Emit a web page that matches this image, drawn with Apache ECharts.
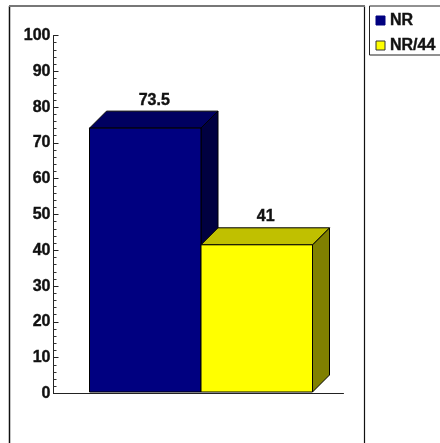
<!DOCTYPE html>
<html>
<head>
<meta charset="utf-8">
<style>html,body{margin:0;padding:0;background:#fff}#c{width:440px;height:443px}</style>
<script src="https://cdn.jsdelivr.net/npm/echarts@6/dist/echarts.min.js"></script>
</head>
<body>
<div id="c"></div>
<script>
const seriesNames = ['NR', 'NR/44'];
const seriesValues = [73.5, 41];
const yTicks = { min: 0, max: 100, major: 10, minorSplits: 5 };
const frontColors = ['#000080', '#ffff00'];
const topColors = ['#000060', '#c0c000'];
const sideColors = ['#000040', '#808000'];
const FONT = '"Liberation Sans", Arial, sans-serif';
const DEPTH_X = 17, DEPTH_Y = 17;
const TEXT_WEIGHT = { textBorderColor: '#111', textBorderWidth: 0.4 };

// A box with a visible top and right side, projected up and to the right.
function renderBox(params, api) {
  const i = params.seriesIndex;
  const [x0, yTop] = api.coord([i, api.value(1)]);
  const yBase = api.coord([i, 0])[1];
  const w = api.size([1, 0])[0];
  const l = x0 - w / 2, r = x0 + w / 2;
  const edge = { stroke: '#000', lineWidth: 1 };
  const poly = (pts, fill) => ({
    type: 'polygon', shape: { points: pts }, style: { fill, ...edge }
  });
  return {
    type: 'group',
    children: [
      poly([[r, yBase], [r + DEPTH_X, yBase - DEPTH_Y], [r + DEPTH_X, yTop - DEPTH_Y], [r, yTop]], sideColors[i]),
      poly([[l, yTop], [l + DEPTH_X, yTop - DEPTH_Y], [r + DEPTH_X, yTop - DEPTH_Y], [r, yTop]], topColors[i]),
      poly([[l, yBase], [r, yBase], [r, yTop], [l, yTop]], frontColors[i]),
      {
        type: 'text',
        style: {
          x: x0 + DEPTH_X / 2 + 0.5, y: yTop - DEPTH_Y - 3,
          text: String(api.value(1)),
          font: 'bold 16px ' + FONT, fill: '#111',
          stroke: '#111', lineWidth: 0.4,
          align: 'center', verticalAlign: 'bottom'
        }
      }
    ]
  };
}

const chart = echarts.init(document.getElementById('c'), null, { renderer: 'canvas' });
chart.setOption({
  animation: false,
  backgroundColor: '#fff',
  legend: {
    data: seriesNames.map((name, i) => ({
      name, icon: 'rect',
      itemStyle: { color: frontColors[i], borderColor: i ? '#333' : '#000080', borderWidth: 1 }
    })),
    orient: 'vertical',
    left: 369.5, top: 6,
    itemWidth: 9, itemHeight: 9, itemGap: 8,
    padding: [6, 12, 1, 6],
    selectedMode: false,
    backgroundColor: '#fff', borderColor: '#222', borderWidth: 1,
    textStyle: { fontFamily: FONT, fontWeight: 'bold', fontSize: 16, color: '#111', padding: [1, 0, 0, 0], lineHeight: 16, ...TEXT_WEIGHT }
  },
  grid: [
    // Axis frame, and the bars' plane which sits just in front of it.
    { left: 53.5, top: 35.5, width: 290, height: 358, containLabel: false },
    { left: 89.5, top: 33, width: 223, height: 359 }
  ],
  xAxis: [
    {
      gridIndex: 0, type: 'category', data: seriesNames,
      axisLabel: { show: false },
      axisLine: { lineStyle: { color: '#222', width: 1 } },
      axisTick: { inside: true, length: 3, alignWithLabel: false, lineStyle: { color: '#444' } }
    },
    { gridIndex: 1, type: 'category', data: seriesNames, show: false }
  ],
  yAxis: [
    {
      gridIndex: 0, type: 'value',
      min: yTicks.min, max: yTicks.max, interval: yTicks.major,
      splitLine: { show: false },
      axisLine: { show: true, lineStyle: { color: '#222', width: 1 } },
      axisTick: { show: true, inside: true, length: 5, lineStyle: { color: '#222' } },
      minorTick: { show: true, splitNumber: yTicks.minorSplits, length: 3, lineStyle: { color: '#333' } },
      axisLabel: { inside: false, margin: 3, fontFamily: FONT, fontWeight: 'bold', fontSize: 16, color: '#111', ...TEXT_WEIGHT }
    },
    { gridIndex: 1, type: 'value', min: yTicks.min, max: yTicks.max, show: false }
  ],
  series: seriesNames.map((name, i) => ({
    name, type: 'custom', xAxisIndex: 1, yAxisIndex: 1,
    coordinateSystem: 'cartesian2d',
    renderItem: renderBox,
    clip: false, z: 3,
    itemStyle: { color: frontColors[i] },
    data: [[i, seriesValues[i]]],
    encode: { x: 0, y: 1 }
  })),
  graphic: [
    { type: 'line', z: 0, shape: { x1: 9.5, y1: 6, x2: 9.5, y2: 443 }, style: { stroke: '#111', lineWidth: 1.5 } },
    { type: 'line', z: 0, shape: { x1: 364.5, y1: 6, x2: 364.5, y2: 443 }, style: { stroke: '#111', lineWidth: 1.2 } },
    { type: 'line', z: 0, shape: { x1: 9, y1: 6, x2: 365, y2: 6 }, style: { stroke: '#777', lineWidth: 2 } }
  ]
});
</script>
</body>
</html>
